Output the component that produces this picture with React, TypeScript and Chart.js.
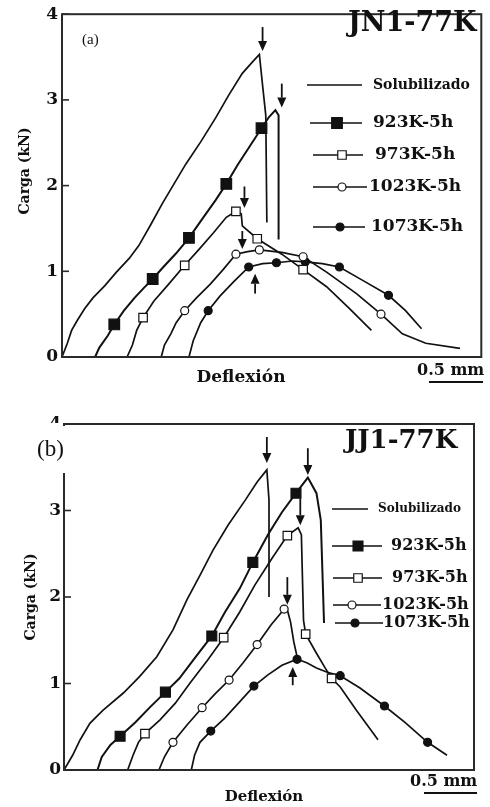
import React, { useEffect, useRef } from "react";
import { Chart, registerables } from "chart.js";
Chart.register(...registerables);

type P = [number, number];

// ---------------- Panel (a): JN1-77K  (x = deflexión en mm, y = carga en kN) ----------------
const aSolubilizado: P[] = [[0,0],[0.05,0.16],[0.09,0.31],[0.14,0.42],[0.21,0.56],[0.29,0.69],[0.40,0.83],[0.51,0.99],[0.63,1.15],[0.72,1.30],[0.83,1.54],[0.94,1.79],[1.05,2.02],[1.16,2.25],[1.30,2.51],[1.44,2.79],[1.56,3.05],[1.69,3.31],[1.79,3.45],[1.85,3.53],[1.88,3.17],[1.91,2.82],[1.92,1.57]];
const a923: P[] = [[0.31,0],[0.35,0.11],[0.43,0.25],[0.49,0.38],[0.58,0.54],[0.68,0.69],[0.77,0.81],[0.85,0.91],[0.95,1.05],[1.07,1.21],[1.19,1.39],[1.32,1.62],[1.44,1.83],[1.54,2.02],[1.65,2.25],[1.76,2.46],[1.87,2.67],[1.94,2.80],[2.00,2.88],[2.03,2.82],[2.03,1.37]];
const a973: P[] = [[0.61,0],[0.66,0.14],[0.70,0.31],[0.76,0.46],[0.86,0.65],[1.00,0.85],[1.15,1.07],[1.28,1.25],[1.42,1.45],[1.54,1.63],[1.63,1.70],[1.68,1.67],[1.69,1.53],[1.83,1.38],[2.06,1.20],[2.26,1.02],[2.48,0.82],[2.69,0.57],[2.90,0.31]];
const a1023: P[] = [[0.93,0],[0.96,0.14],[1.02,0.27],[1.07,0.40],[1.15,0.54],[1.26,0.69],[1.39,0.85],[1.51,1.02],[1.63,1.20],[1.74,1.23],[1.85,1.25],[2.06,1.22],[2.26,1.17],[2.48,0.99],[2.76,0.74],[2.99,0.50],[3.19,0.27],[3.41,0.16],[3.73,0.10]];
const a1073: P[] = [[1.19,0],[1.23,0.19],[1.30,0.40],[1.37,0.54],[1.48,0.71],[1.61,0.88],[1.75,1.05],[1.88,1.09],[2.01,1.10],[2.16,1.12],[2.28,1.11],[2.44,1.09],[2.60,1.05],[2.81,0.90],[3.06,0.72],[3.22,0.54],[3.37,0.33]];
const a923Marks: P[] = [[0.49,0.38],[0.85,0.91],[1.19,1.39],[1.54,2.02],[1.87,2.67]];
const a973Marks: P[] = [[0.76,0.46],[1.15,1.07],[1.63,1.70],[1.83,1.38],[2.26,1.02]];
const a1023Marks: P[] = [[1.15,0.54],[1.63,1.20],[1.85,1.25],[2.26,1.17],[2.99,0.50]];
const a1073Marks: P[] = [[1.37,0.54],[1.75,1.05],[2.01,1.10],[2.28,1.11],[2.60,1.05],[3.06,0.72]];
// arrows: [x, y of tail, y of tip]
const aArrows: [number, number, number][] = [[1.88,3.85,3.57],[2.06,3.19,2.91],[1.71,1.99,1.74],[1.69,1.47,1.26],[1.81,0.74,0.97]];

// ---------------- Panel (b): JJ1-77K ----------------
const bSolubilizado: P[] = [[0,0],[0.08,0.17],[0.15,0.35],[0.24,0.54],[0.36,0.69],[0.55,0.89],[0.70,1.08],[0.86,1.31],[1.01,1.62],[1.14,1.97],[1.26,2.25],[1.38,2.54],[1.52,2.83],[1.68,3.12],[1.79,3.33],[1.88,3.47],[1.90,3.12],[1.90,2.00]];
const b923: P[] = [[0.31,0],[0.35,0.15],[0.43,0.29],[0.52,0.39],[0.66,0.55],[0.80,0.73],[0.94,0.90],[1.07,1.06],[1.21,1.29],[1.37,1.55],[1.49,1.82],[1.63,2.10],[1.75,2.40],[1.89,2.72],[2.02,2.98],[2.15,3.20],[2.26,3.38],[2.34,3.20],[2.38,2.89],[2.41,1.70]];
const b973: P[] = [[0.59,0],[0.64,0.17],[0.69,0.32],[0.75,0.42],[0.89,0.58],[1.03,0.77],[1.17,1.01],[1.33,1.27],[1.48,1.53],[1.63,1.83],[1.77,2.14],[1.93,2.45],[2.07,2.71],[2.17,2.80],[2.20,2.72],[2.22,1.73],[2.24,1.57],[2.34,1.35],[2.42,1.18],[2.48,1.06],[2.56,0.96],[2.71,0.69],[2.91,0.35]];
const b1023: P[] = [[0.88,0],[0.93,0.15],[1.01,0.32],[1.14,0.52],[1.28,0.72],[1.40,0.88],[1.53,1.04],[1.66,1.24],[1.79,1.45],[1.92,1.68],[2.04,1.86],[2.07,1.85],[2.10,1.71],[2.13,1.48],[2.16,1.31]];
const b1073: P[] = [[1.18,0],[1.21,0.17],[1.26,0.32],[1.36,0.45],[1.49,0.60],[1.63,0.79],[1.76,0.97],[1.89,1.10],[2.02,1.21],[2.16,1.28],[2.25,1.24],[2.34,1.18],[2.44,1.13],[2.56,1.09],[2.74,0.95],[2.97,0.74],[3.16,0.55],[3.37,0.32],[3.55,0.17]];
const b923Marks: P[] = [[0.52,0.39],[0.94,0.90],[1.37,1.55],[1.75,2.40],[2.15,3.20]];
const b973Marks: P[] = [[0.75,0.42],[1.48,1.53],[2.07,2.71],[2.24,1.57],[2.48,1.06]];
const b1023Marks: P[] = [[1.01,0.32],[1.28,0.72],[1.53,1.04],[1.79,1.45],[2.04,1.86]];
const b1073Marks: P[] = [[1.36,0.45],[1.76,0.97],[2.16,1.28],[2.56,1.09],[2.97,0.74],[3.37,0.32]];
const bArrows: [number, number, number][] = [[1.88,3.85,3.55],[2.26,3.72,3.41],[2.19,3.14,2.83],[2.07,2.23,1.91],[2.12,0.98,1.19]];

const SERIES = ["Solubilizado", "923K-5h", "973K-5h", "1023K-5h", "1073K-5h"];
const Y_MIN = 0, Y_MAX = 4, Y_STEP = 1;
const X_MAX_A = 3.93, X_MAX_B = 3.8;

const INK = "#111";
const DV = '"DejaVu Serif", serif';
const TNR = '"Liberation Serif", "Times New Roman", serif';

type Kind = "none" | "fillRect" | "openRect" | "openCircle" | "fillCircle";
const KINDS: Kind[] = ["none", "fillRect", "openRect", "openCircle", "fillCircle"];

function drawMark(ctx: CanvasRenderingContext2D, kind: Kind, x: number, y: number, r: number) {
  if (kind === "none") return;
  ctx.save();
  ctx.lineWidth = 1.2;
  ctx.strokeStyle = INK;
  ctx.fillStyle = kind.startsWith("fill") ? INK : "#fff";
  ctx.beginPath();
  if (kind.endsWith("Rect")) {
    const s = r * Math.SQRT1_2;
    ctx.rect(x - s, y - s, 2 * s, 2 * s);
  } else {
    ctx.arc(x, y, r, 0, Math.PI * 2);
  }
  ctx.fill();
  ctx.stroke();
  ctx.restore();
}

interface LegendItem { x1: number; x2: number; mx: number; y: number; tx: number; size: number; r: number; }
interface PanelCfg {
  series: P[][];
  marks: P[][];
  arrows: [number, number, number][];
  xMax: number;
  canvasH: number;
  padTop: number;
  padRight: number;
  yAxisW: number;
  xAxisH: number;
  tickPad: number;
  markR: number[];
  legend: LegendItem[];
  title: { text: string; x: number; y: number; size: number };
  panel: { text: string; x: number; y: number; size: number; covers?: [number, number, number, number][] };
  bar: { tx: number; ty: number; x1: number; x2: number; ly: number; size: number };
  xTitle: { x: number; y: number; size: number };
  yTitle: { x: number; y: number; size: number };
}

function overlay(cfg: PanelCfg) {
  return {
    id: "overlay",
    afterDraw(chart: any) {
      const ctx: CanvasRenderingContext2D = chart.ctx;
      const ca = chart.chartArea;
      const xs = chart.scales.x, ys = chart.scales.y;
      ctx.save();
      // frame
      ctx.strokeStyle = "#2a2a2a";
      ctx.lineWidth = 2;
      ctx.strokeRect(ca.left, ca.top, ca.right - ca.left, ca.bottom - ca.top);
      // inward tick marks
      ctx.lineWidth = 1.6;
      ys.ticks.forEach((t: any) => {
        const y = ys.getPixelForValue(t.value);
        ctx.beginPath(); ctx.moveTo(ca.left, y); ctx.lineTo(ca.left + 7, y); ctx.stroke();
      });
      // arrows
      ctx.strokeStyle = INK; ctx.fillStyle = INK; ctx.lineWidth = 1.8;
      cfg.arrows.forEach(([x, tail, tip]) => {
        const px = xs.getPixelForValue(x);
        const pt = ys.getPixelForValue(tail);
        const pp = ys.getPixelForValue(tip);
        const dir = pp > pt ? 1 : -1;
        const headLen = 10;
        ctx.beginPath(); ctx.moveTo(px, pt); ctx.lineTo(px, pp - dir * headLen); ctx.stroke();
        ctx.beginPath();
        ctx.moveTo(px, pp);
        ctx.lineTo(px - 4.5, pp - dir * headLen);
        ctx.lineTo(px + 4.5, pp - dir * headLen);
        ctx.closePath(); ctx.fill();
      });
      // legend
      cfg.legend.forEach((it, i) => {
        ctx.strokeStyle = INK; ctx.lineWidth = 1.6;
        ctx.beginPath(); ctx.moveTo(it.x1, it.y); ctx.lineTo(it.x2, it.y); ctx.stroke();
        drawMark(ctx, KINDS[i], it.mx, it.y, it.r);
        ctx.fillStyle = INK;
        ctx.font = `bold ${it.size}px ${DV}`;
        ctx.textAlign = "left"; ctx.textBaseline = "middle";
        ctx.fillText(SERIES[i], it.tx, it.y);
      });
      // title
      ctx.fillStyle = INK;
      ctx.font = `bold ${cfg.title.size}px ${DV}`;
      ctx.textAlign = "left"; ctx.textBaseline = "middle";
      ctx.fillText(cfg.title.text, cfg.title.x, cfg.title.y);
      // panel label (with white covers)
      (cfg.panel.covers || []).forEach(([cx, cy, cw, chh]) => {
        ctx.fillStyle = "#fff"; ctx.fillRect(cx, cy, cw, chh);
      });
      ctx.fillStyle = INK;
      ctx.font = `${cfg.panel.size}px ${TNR}`;
      ctx.fillText(cfg.panel.text, cfg.panel.x, cfg.panel.y);
      // scale bar
      ctx.font = `bold ${cfg.bar.size}px ${DV}`;
      ctx.fillText("0.5 mm", cfg.bar.tx, cfg.bar.ty);
      ctx.lineWidth = 2.2; ctx.strokeStyle = INK;
      ctx.beginPath(); ctx.moveTo(cfg.bar.x1, cfg.bar.ly); ctx.lineTo(cfg.bar.x2, cfg.bar.ly); ctx.stroke();
      // axis titles
      ctx.font = `bold ${cfg.xTitle.size}px ${DV}`;
      ctx.textAlign = "center";
      ctx.fillText("Deflexión", cfg.xTitle.x, cfg.xTitle.y);
      ctx.save();
      ctx.translate(cfg.yTitle.x, cfg.yTitle.y);
      ctx.rotate(-Math.PI / 2);
      ctx.font = `bold ${cfg.yTitle.size}px ${DV}`;
      ctx.fillText("Carga (kN)", 0, 0);
      ctx.restore();
      ctx.restore();
    },
  };
}

const toXY = (a: P[]) => a.map(([x, y]) => ({ x, y }));

function buildChart(canvas: HTMLCanvasElement, cfg: PanelCfg) {
  const lineSets = cfg.series.map((s, i) => ({
    type: "line" as const,
    label: SERIES[i],
    data: toXY(s),
    borderColor: INK,
    borderWidth: i === 1 ? 2 : 1.7,
    pointRadius: 0,
    tension: 0,
    fill: false,
    order: 1,
  }));
  const styles: any[] = ["rect", "rect", "circle", "circle"];
  const markSets = cfg.marks.map((m, i) => ({
    type: "scatter" as const,
    label: SERIES[i + 1] + " marcas",
    data: toXY(m),
    showLine: false,
    pointStyle: styles[i],
    pointRadius: cfg.markR[i],
    pointBackgroundColor: i === 0 || i === 3 ? INK : "#fff",
    pointBorderColor: INK,
    pointBorderWidth: 1.2,
    order: 0,
  }));
  return new Chart(canvas, {
    type: "line",
    data: { datasets: [...lineSets, ...markSets] as any },
    options: {
      animation: false,
      responsive: false,
      maintainAspectRatio: false,
      layout: { padding: { top: cfg.padTop, right: cfg.padRight, left: 0, bottom: 0 } },
      plugins: { legend: { display: false }, tooltip: { enabled: false }, title: { display: false } },
      scales: {
        x: {
          type: "linear", min: 0, max: cfg.xMax,
          ticks: { display: false },
          grid: { display: false, drawTicks: false },
          border: { display: false },
          afterFit: (s: any) => { s.height = cfg.xAxisH; },
        },
        y: {
          type: "linear", min: Y_MIN, max: Y_MAX,
          ticks: { stepSize: Y_STEP, padding: cfg.tickPad, color: INK, font: { family: "DejaVu Serif", weight: "bold", size: 17 } },
          grid: { display: false, drawTicks: false },
          border: { display: false },
          afterFit: (s: any) => { s.width = cfg.yAxisW; },
        },
      },
    } as any,
    plugins: [overlay(cfg)],
  });
}

const panelA: PanelCfg = {
  series: [aSolubilizado, a923, a973, a1023, a1073],
  marks: [a923Marks, a973Marks, a1023Marks, a1073Marks],
  arrows: aArrows,
  xMax: X_MAX_A,
  canvasH: 400, padTop: 7, padRight: 4, yAxisW: 62, xAxisH: 43, tickPad: 4,
  markR: [7.5, 6, 4, 4],
  legend: [
    { x1: 307, x2: 362, mx: 0, y: 85, tx: 373, size: 14, r: 0 },
    { x1: 310, x2: 362, mx: 337, y: 123, tx: 373, size: 17, r: 7.5 },
    { x1: 313, x2: 363, mx: 342, y: 155, tx: 375, size: 17, r: 6 },
    { x1: 313, x2: 367, mx: 342, y: 187, tx: 369, size: 17, r: 4 },
    { x1: 313, x2: 365, mx: 340, y: 227, tx: 371, size: 17, r: 4 },
  ],
  title: { text: "JN1-77K", x: 348, y: 24, size: 27 },
  panel: { text: "(a)", x: 82, y: 40, size: 15 },
  bar: { tx: 417, ty: 371, x1: 429, x2: 483, ly: 382, size: 16 },
  xTitle: { x: 241, y: 378, size: 17 },
  yTitle: { x: 25, y: 171, size: 14 },
};

const panelB: PanelCfg = {
  series: [bSolubilizado, b923, b973, b1023, b1073],
  marks: [b923Marks, b973Marks, b1023Marks, b1073Marks],
  arrows: bArrows,
  xMax: X_MAX_B,
  canvasH: 407, padTop: 24, padRight: 16, yAxisW: 64, xAxisH: 37, tickPad: 3,
  markR: [7, 6, 4, 4],
  legend: [
    { x1: 332, x2: 368, mx: 0, y: 109, tx: 378, size: 12, r: 0 },
    { x1: 332, x2: 382, mx: 358, y: 146, tx: 391, size: 16, r: 7 },
    { x1: 333, x2: 382, mx: 358, y: 178, tx: 392, size: 16, r: 6 },
    { x1: 333, x2: 381, mx: 352, y: 205, tx: 382, size: 16, r: 4 },
    { x1: 335, x2: 383, mx: 355, y: 223, tx: 383, size: 16, r: 4 },
  ],
  title: { text: "JJ1-77K", x: 345, y: 41, size: 26 },
  panel: { text: "(b)", x: 37, y: 50, size: 23, covers: [[26, 23, 36.5, 50], [62, 26, 6, 47]] },
  bar: { tx: 410, ty: 382, x1: 424, x2: 477, ly: 393, size: 16 },
  xTitle: { x: 264, y: 397, size: 15 },
  yTitle: { x: 31, y: 197, size: 14 },
};

function Panel({ cfg, top }: { cfg: PanelCfg; top: number }) {
  const ref = useRef<HTMLCanvasElement>(null);
  useEffect(() => {
    if (!ref.current) return;
    const ch = buildChart(ref.current, cfg);
    return () => ch.destroy();
  }, [cfg]);
  return (
    <canvas
      ref={ref}
      width={490}
      height={cfg.canvasH}
      style={{ position: "absolute", left: 0, top, width: 490, height: cfg.canvasH }}
    />
  );
}

export default function App() {
  return (
    <div style={{ position: "absolute", left: 0, top: 0, width: 490, height: 807, background: "#fff", overflow: "hidden" }}>
      <Panel cfg={panelA} top={0} />
      <Panel cfg={panelB} top={400} />
    </div>
  );
}
